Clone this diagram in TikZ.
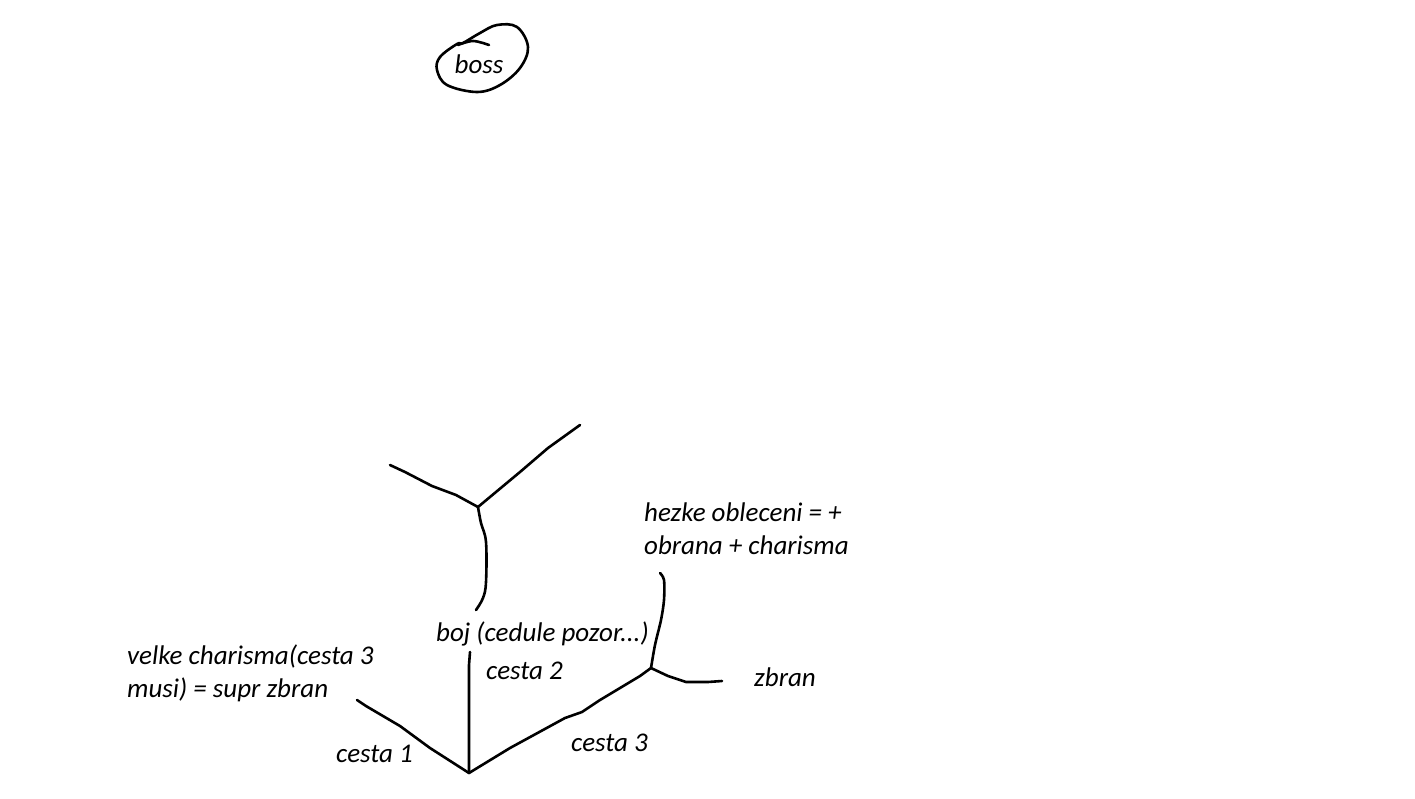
\documentclass[tikz,border=0pt]{standalone}
\usepackage{fontspec}
\setmainfont{Carlito}
\begin{document}
\begin{tikzpicture}[x=1pt,y=-1pt,
  stroke/.style={line width=2.6pt,line cap=round,line join=round},
  lbl/.style={inner sep=0pt,anchor=base west,font=\fontsize{27}{32.5}\selectfont\itshape,align=left}]
\useasboundingbox[fill=white] (0,0) rectangle (1415,798);
% labels (base anchor = baseline of the last line)
\node[lbl,anchor=base] (boss) at (479,73) {boss};
\node[lbl] (boj) at (436,641) {boj (cedule pozor...)};
\node[lbl] (c2) at (486,679) {cesta 2};
\node[lbl] (velke) at (127,697) {velke charisma(cesta 3\\musi) = supr zbran};
\node[lbl] (c1) at (336,762) {cesta 1};
\node[lbl] (c3) at (571,751) {cesta 3};
\node[lbl] (zbran) at (754,686) {zbran};
\node[lbl] (hezke) at (644,554) {hezke obleceni = +\\obrana + charisma};
% junctions and ends
\coordinate (top) at (478,507);
\coordinate (tl) at (390,465);
\coordinate (tr) at (580,425);
\coordinate (stemend) at (476,610);
\coordinate (root) at (469,773);
\coordinate (c2top) at (470,652);
\coordinate (c1end) at (357,700);
\coordinate (fork) at (651,668);
\coordinate (forkup) at (660,573);
\coordinate (forkr) at (722,681);
% boss blob
\draw[stroke] plot[smooth cycle,tension=0.6] coordinates {(463,43) (480,33) (497,25) (517,27) (528,47) (520,68) (500,85) (477,92) (447,85) (437,70) (440,57) (457,44)};
\draw[stroke] plot[smooth,tension=0.6] coordinates {(458,45) (473,41) (489,45)};
% upper Y
\draw[stroke] (tl) -- (405,472) -- (432,486) -- (456,495) -- (top);
\draw[stroke] (top) -- (520,472) -- (548,448) -- (tr);
\draw[stroke] plot[smooth,tension=0.6] coordinates {(top) (481,523) (486,542) (486,582) (483,598) (stemend)};
% lower tree
\draw[stroke] (c2top) -- (469,665) -- (root);
\draw[stroke] (c1end) -- (366,706) -- (400,726) -- (430,748) -- (root);
\draw[stroke] (root) -- (510,748) -- (565,718) -- (582,712) -- (600,700) -- (640,676) -- (fork);
\draw[stroke] plot[smooth,tension=0.5] coordinates {(fork) (655,645) (661,620) (664,600) (664,580) (forkup)};
\draw[stroke] (fork) -- (668,676) -- (686,682) -- (708,682) -- (forkr);
\end{tikzpicture}
\end{document}
